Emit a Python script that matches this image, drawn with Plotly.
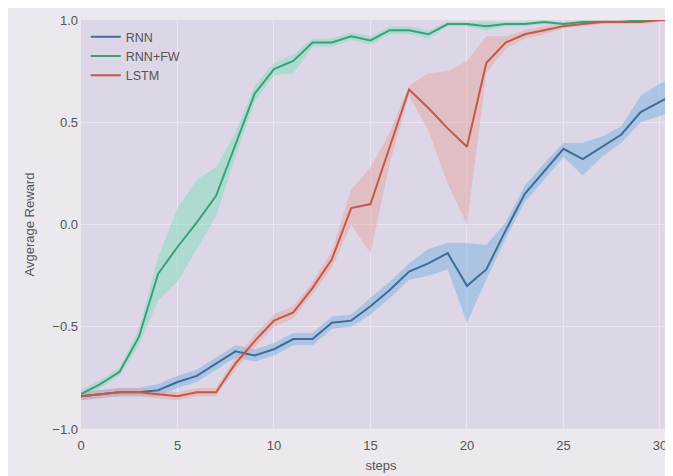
import plotly.graph_objects as go

steps = list(range(32))

rnn = [-0.84, -0.83, -0.82, -0.82, -0.81, -0.77, -0.74, -0.68, -0.62, -0.64, -0.61, -0.56,
       -0.56, -0.48, -0.47, -0.40, -0.32, -0.23, -0.19, -0.14, -0.30, -0.22, -0.03, 0.15,
       0.26, 0.37, 0.32, 0.38, 0.44, 0.55, 0.60, 0.65]
rnn_hi = [-0.82, -0.81, -0.80, -0.80, -0.78, -0.74, -0.71, -0.65, -0.59, -0.61, -0.58, -0.53,
          -0.53, -0.45, -0.44, -0.36, -0.28, -0.19, -0.12, -0.09, -0.09, -0.10, 0.01, 0.19,
          0.30, 0.40, 0.40, 0.43, 0.48, 0.63, 0.69, 0.72]
rnn_lo = [-0.86, -0.85, -0.84, -0.84, -0.84, -0.80, -0.77, -0.71, -0.65, -0.67, -0.64, -0.59,
          -0.59, -0.51, -0.50, -0.44, -0.36, -0.27, -0.25, -0.22, -0.48, -0.27, -0.07, 0.11,
          0.22, 0.33, 0.24, 0.33, 0.40, 0.50, 0.53, 0.56]

fw = [-0.83, -0.78, -0.72, -0.55, -0.24, -0.11, 0.01, 0.14, 0.39, 0.64, 0.76, 0.80,
      0.89, 0.89, 0.92, 0.90, 0.95, 0.95, 0.93, 0.98, 0.98, 0.97, 0.98, 0.98,
      0.99, 0.98, 0.99, 0.99, 0.99, 1.0, 1.0, 1.0]
fw_hi = [-0.81, -0.76, -0.70, -0.51, -0.16, 0.08, 0.22, 0.28, 0.45, 0.68, 0.79, 0.83,
         0.91, 0.91, 0.94, 0.92, 0.97, 0.97, 0.95, 0.99, 0.99, 0.99, 0.99, 0.99,
         1.0, 0.99, 1.0, 1.0, 1.0, 1.0, 1.0, 1.0]
fw_lo = [-0.85, -0.80, -0.74, -0.59, -0.37, -0.28, -0.12, 0.04, 0.33, 0.60, 0.73, 0.74,
         0.87, 0.87, 0.90, 0.88, 0.93, 0.93, 0.91, 0.97, 0.97, 0.95, 0.97, 0.97,
         0.98, 0.97, 0.98, 0.98, 0.98, 0.99, 0.99, 0.99]

lstm = [-0.84, -0.83, -0.82, -0.82, -0.83, -0.84, -0.82, -0.82, -0.68, -0.57, -0.47, -0.43,
        -0.31, -0.17, 0.08, 0.10, 0.38, 0.66, 0.57, 0.47, 0.38, 0.79, 0.89, 0.93,
        0.95, 0.97, 0.98, 0.99, 0.99, 0.99, 1.0, 1.0]
lstm_hi = [-0.82, -0.81, -0.80, -0.80, -0.81, -0.82, -0.80, -0.80, -0.65, -0.54, -0.44, -0.40,
           -0.28, -0.13, 0.17, 0.28, 0.45, 0.68, 0.74, 0.75, 0.80, 0.92, 0.92, 0.95,
           0.97, 0.98, 0.99, 1.0, 1.0, 1.0, 1.0, 1.0]
lstm_lo = [-0.86, -0.85, -0.84, -0.84, -0.85, -0.86, -0.84, -0.84, -0.71, -0.60, -0.50, -0.46,
           -0.34, -0.21, 0.00, -0.14, 0.30, 0.63, 0.46, 0.20, 0.00, 0.74, 0.86, 0.91,
           0.93, 0.96, 0.97, 0.98, 0.98, 0.98, 0.99, 0.99]

series = [
    ("RNN", rnn, rnn_hi, rnn_lo, "#3f6d96", "rgba(110,175,225,0.45)"),
    ("RNN+FW", fw, fw_hi, fw_lo, "#3aa07a", "rgba(120,225,185,0.45)"),
    ("LSTM", lstm, lstm_hi, lstm_lo, "#c25a48", "rgba(230,160,155,0.45)"),
]

fig = go.Figure()
for name, y, hi, lo, col, band in series:
    fig.add_trace(go.Scatter(
        x=steps + steps[::-1], y=hi + lo[::-1], fill="toself", fillcolor=band,
        line=dict(width=0), hoverinfo="skip", showlegend=False, mode="lines"))
for name, y, hi, lo, col, band in series:
    fig.add_trace(go.Scatter(x=steps, y=y, mode="lines", name=name,
                             line=dict(color=col, width=2)))

fig.update_layout(
    width=673, height=476,
    margin=dict(l=73, r=0, t=12, b=55),
    paper_bgcolor="#ebe8ee", plot_bgcolor="#ddd6e6",
    font=dict(family="Liberation Sans, Arial, sans-serif", size=13, color="#555555"),
    showlegend=True,
    legend=dict(x=0.008, y=0.995, xanchor="left", yanchor="top", bgcolor="rgba(0,0,0,0)",
                font=dict(size=12.5, color="#555555"), tracegroupgap=0, itemwidth=30),
    xaxis=dict(range=[0, 31.09], tickvals=[0, 5, 10, 15, 20, 25, 30], showgrid=True,
               gridcolor="#e9e4ef", gridwidth=1.2, zeroline=False, showline=False,
               ticks="", ticklabelstandoff=7,
               title=dict(text="steps", standoff=8, font=dict(size=13))),
    yaxis=dict(range=[-1, 1], tickvals=[-1, -0.5, 0, 0.5, 1.0],
               ticktext=["\u22121.0", "\u22120.5", "0.0", "0.5", "1.0"], showgrid=True,
               gridcolor="#e9e4ef", gridwidth=1.2, zeroline=False, showline=False,
               ticks="", ticklabelstandoff=2,
               title=dict(text="Avgerage Reward", standoff=14, font=dict(size=13))),
)

fig.write_html("out.html")
